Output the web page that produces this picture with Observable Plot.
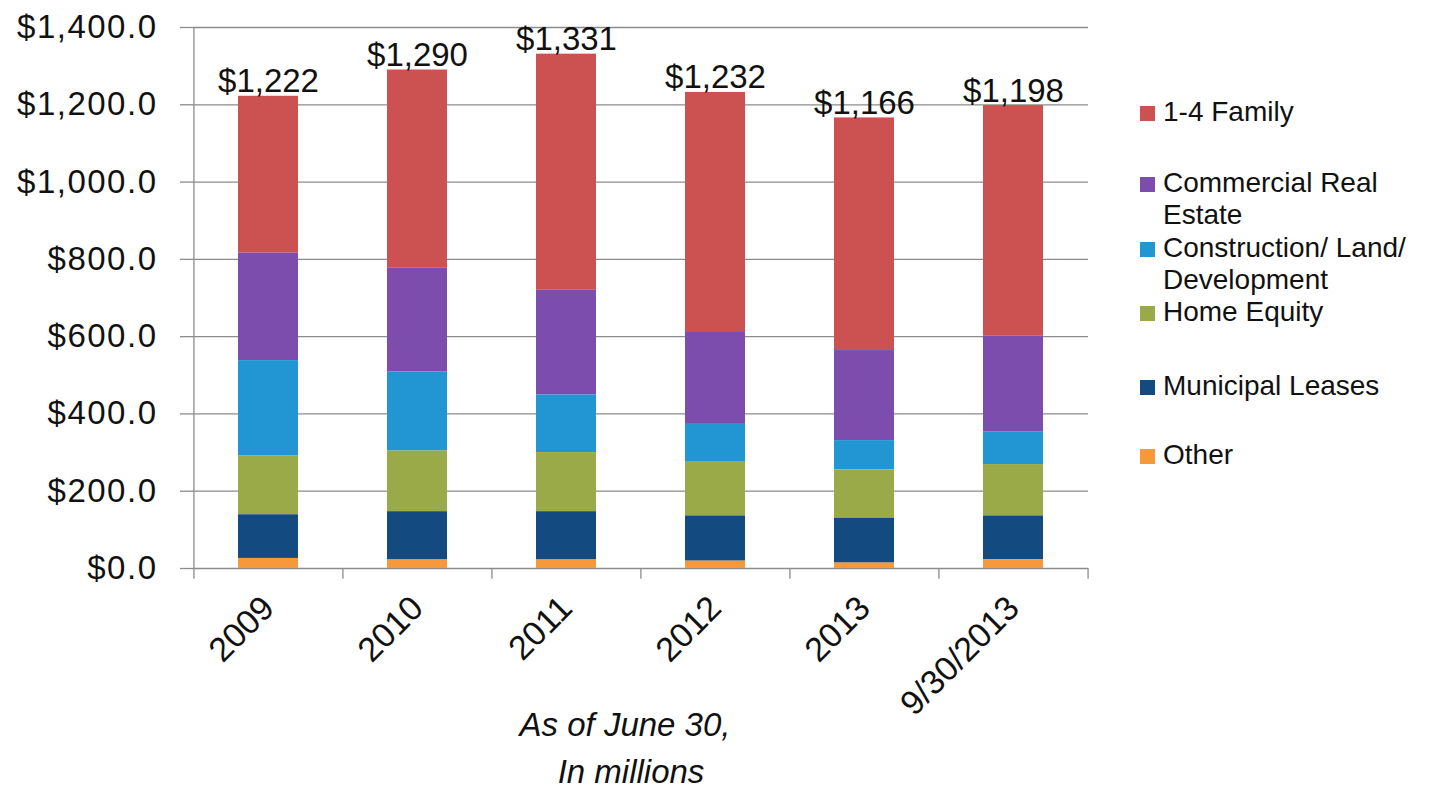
<!DOCTYPE html>
<html>
<head>
<meta charset="utf-8">
<script src="https://cdn.jsdelivr.net/npm/d3@7"></script>
<script src="https://cdn.jsdelivr.net/npm/@observablehq/plot@0.6"></script>
<style>
  html, body { margin: 0; padding: 0; background: #fff; }
  #wrap { position: relative; width: 1439px; height: 792px; overflow: hidden;
          font-family: "Liberation Sans", Arial, sans-serif; color: #111; }
  #chart { position: absolute; left: 0; top: 0; }
  .legline { position: absolute; left: 1163px; font-size: 28px; line-height: 32px; white-space: nowrap; }
  .sw { position: absolute; left: 1140px; width: 15px; height: 15px; }
  .cap { position: absolute; font-style: italic; font-size: 33px; white-space: nowrap;
         transform: translateX(-50%); line-height: 38px; }
</style>
</head>
<body>
<div id="wrap">
  <div id="chart"></div>
  <div id="legend"></div>
  <div id="caption"></div>
</div>
<script>
// ---- data ----
const categories = ["2009", "2010", "2011", "2012", "2013", "9/30/2013"];
const family       = [406, 512, 611, 619, 602, 597];
const commercialRE = [278, 269, 271, 240, 233, 247];
const construction = [246, 205, 149,  98,  76,  85];
const homeEquity   = [153, 157, 153, 139, 125, 133];
const municipal    = [113, 125, 125, 117, 116, 113];
const other        = [ 26,  22,  22,  19,  14,  23];
const totals       = [1222, 1290, 1331, 1232, 1166, 1198];

const seriesNames = ["1-4 Family", "Commercial Real Estate", "Construction/ Land/ Development",
                     "Home Equity", "Municipal Leases", "Other"];
const seriesValues = [family, commercialRE, construction, homeEquity, municipal, other];
const seriesColors = ["#CB5250", "#7D4DAE", "#2196D2", "#9BAA48", "#134A80", "#F7993A"];
const legendLines = [["1-4 Family"], ["Commercial Real", "Estate"], ["Construction/ Land/", "Development"],
                     ["Home Equity"], ["Municipal Leases"], ["Other"]];
const yTicks = [0, 200, 400, 600, 800, 1000, 1200, 1400];
const captionLines = ["As of June 30,", "In millions"];

// ---- build long table ----
const rows = [];
seriesNames.forEach((s, si) => {
  categories.forEach((c, ci) => rows.push({year: c, series: s, value: seriesValues[si][ci]}));
});
const totalRows = categories.map((c, i) => ({year: c, total: totals[i]}));
const stackOrder = seriesNames.slice().reverse(); // bottom to top

const W = 1100, H = 792, mL = 193, mR = 12, mT = 27, mB = 224;
const step = (W - mL - mR) / categories.length;
const grid = "#8c8c8c";

const chart = Plot.plot({
  width: W, height: H,
  marginLeft: mL, marginRight: mR, marginTop: mT, marginBottom: mB,
  style: {fontFamily: '"Liberation Sans", Arial, sans-serif', background: "transparent", overflow: "visible"},
  x: {domain: categories, paddingInner: 0.6, paddingOuter: 0.3, axis: null},
  y: {domain: [0, 1400], axis: null},
  color: {domain: seriesNames, range: seriesColors},
  marks: [
    Plot.ruleY(yTicks, {stroke: grid, strokeWidth: 1.3}),
    Plot.axisY({ticks: yTicks, tickFormat: d => "$" + d3.format(",.1f")(d), tickSize: 13, tickPadding: 23,
                fontSize: 33, stroke: grid, strokeWidth: 1.3, fill: "#111", label: null}),
    Plot.barY(rows, {x: "year", y: "value", fill: "series", order: stackOrder}),
    // left axis line (at the first band boundary)
    Plot.ruleX(categories.slice(0, 1), {x: d => d, dx: -step / 2, y1: -28, y2: 1400, stroke: grid, strokeWidth: 1.3}),
    // band boundary ticks on the x axis
    Plot.ruleX(categories.slice(1), {x: d => d, dx: -step / 2, y1: -28, y2: 0, stroke: grid, strokeWidth: 1.3}),
    Plot.ruleX(categories.slice(-1), {x: d => d, dx: step / 2, y1: -28, y2: 0, stroke: grid, strokeWidth: 1.3}),
    Plot.axisX({tickRotate: -45, tickSize: 0, tickPadding: 34, fontSize: 34, fill: "#111", label: null}),
    Plot.text(totalRows, {x: "year", y: "total", text: d => "$" + d3.format(",")(d.total),
                          dy: -4, lineAnchor: "bottom", fontSize: 33, fill: "#111"})
  ]
});
document.getElementById("chart").appendChild(chart);
d3.select(chart).selectAll('[aria-label="y-axis tick label"] text').style("letter-spacing", "1.5px");

// ---- legend ----
const legend = document.getElementById("legend");
const firstBaselines = [121, 191.5, 256.5, 321, 395, 464];
legendLines.forEach((lines, i) => {
  const sw = document.createElement("div");
  sw.className = "sw";
  sw.style.background = seriesColors[i];
  sw.style.top = (firstBaselines[i] - 15) + "px";
  legend.appendChild(sw);
  lines.forEach((t, j) => {
    const d = document.createElement("div");
    d.className = "legline";
    d.textContent = t;
    d.style.top = (firstBaselines[i] + j * 32.3 - 25) + "px";
    legend.appendChild(d);
  });
});

// ---- caption ----
const cap = document.getElementById("caption");
captionLines.forEach((t, j) => {
  const d = document.createElement("div");
  d.className = "cap";
  d.textContent = t;
  d.style.left = (j === 0 ? 625 : 631) + "px";
  d.style.top = (735 + j * 47 - 29) + "px";
  cap.appendChild(d);
});
</script>
</body>
</html>
